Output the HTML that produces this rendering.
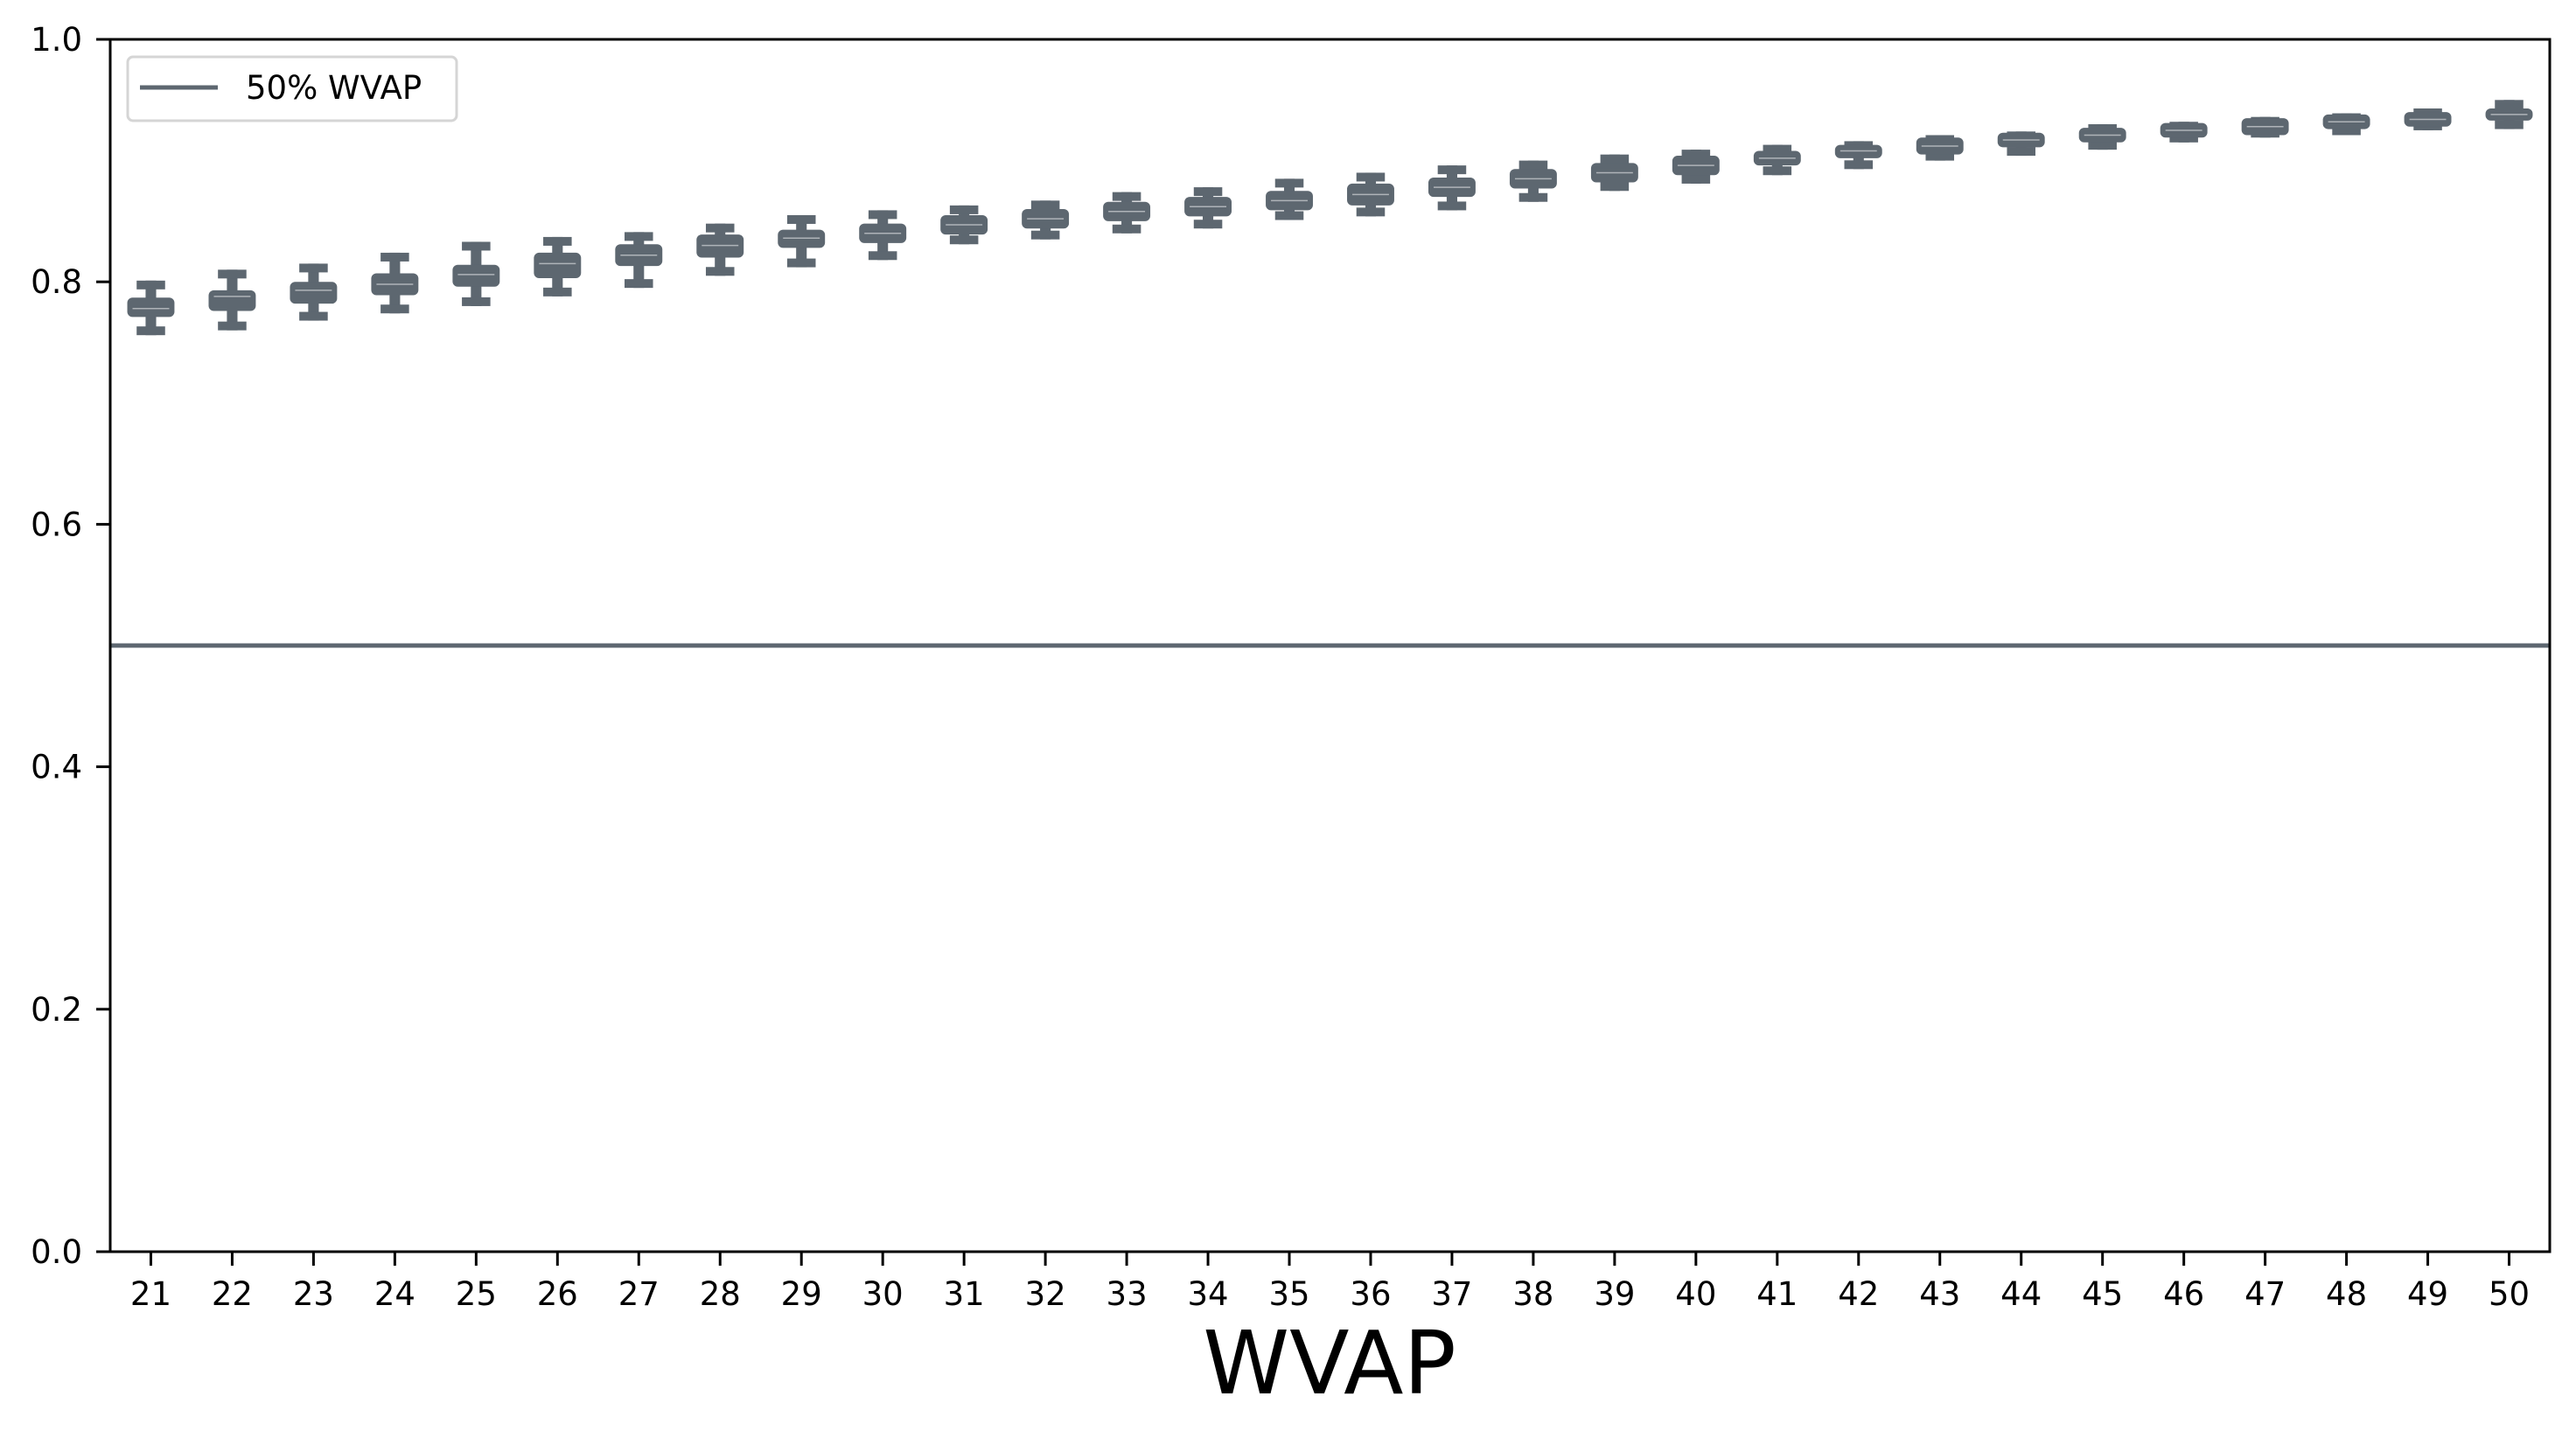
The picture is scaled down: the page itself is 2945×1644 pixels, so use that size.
<!DOCTYPE html>
<html><head><meta charset="utf-8"><style>
html,body{margin:0;padding:0;background:#fff}
svg{display:block;font-family:"DejaVu Sans","Liberation Sans",sans-serif}
</style></head><body>
<svg id="chart" width="2945" height="1644" viewBox="0 0 2945 1644">
<rect x="0" y="0" width="2945" height="1644" fill="#fff"/>
<g id="boxes"></g>
<line id="refline" stroke="#5d6770" stroke-width="5"/>
<rect x="126" y="45" width="2789" height="1386" fill="none" stroke="#000" stroke-width="3"/>
<g id="yaxis"></g>
<g id="xaxis"></g>
<text x="1520" y="1593" font-size="100" text-anchor="middle" fill="#000">WVAP</text>
<g>
<rect x="146" y="65" width="376" height="73" rx="6" fill="#fff" stroke="#d5d5d5" stroke-width="3"/>
<line x1="160" y1="100" x2="249" y2="100" stroke="#5d6770" stroke-width="5"/>
<text x="281" y="113" font-size="37" fill="#000">50% WVAP</text>
</g>
</svg>
<script>
const categories = [21,22,23,24,25,26,27,28,29,30,31,32,33,34,35,36,37,38,39,40,41,42,43,44,45,46,47,48,49,50];
const whiskerHigh = [0.801,0.810,0.815,0.824,0.833,0.837,0.841,0.848,0.855,0.859,0.863,0.867,0.874,0.878,0.885,0.890,0.896,0.900,0.905,0.909,0.913,0.916,0.921,0.924,0.930,0.932,0.936,0.939,0.943,0.950];
const q3 = [0.787,0.793,0.800,0.807,0.814,0.824,0.831,0.839,0.843,0.848,0.855,0.860,0.866,0.870,0.875,0.881,0.886,0.893,0.898,0.904,0.908,0.913,0.919,0.923,0.927,0.931,0.935,0.938,0.940,0.943];
const medians = [0.778,0.788,0.793,0.798,0.806,0.815,0.822,0.830,0.836,0.840,0.847,0.852,0.858,0.862,0.867,0.872,0.878,0.885,0.890,0.896,0.902,0.908,0.912,0.917,0.921,0.925,0.928,0.932,0.934,0.938];
const q1 = [0.771,0.776,0.782,0.789,0.796,0.803,0.813,0.820,0.828,0.832,0.839,0.844,0.850,0.854,0.859,0.863,0.870,0.877,0.882,0.888,0.896,0.902,0.905,0.911,0.915,0.919,0.921,0.926,0.928,0.933];
const whiskerLow = [0.756,0.760,0.768,0.774,0.780,0.788,0.795,0.805,0.812,0.818,0.831,0.835,0.840,0.844,0.851,0.854,0.859,0.866,0.875,0.881,0.888,0.893,0.900,0.904,0.909,0.915,0.919,0.921,0.925,0.926];
const refValue = 0.5;
const yTicks = [0.0,0.2,0.4,0.6,0.8,1.0];
const yTickLabels = ["0.0","0.2","0.4","0.6","0.8","1.0"];

const NS = "http://www.w3.org/2000/svg";
const L=126,R=2915,T=45,B=1431;
function xScale(i){return L+(i+0.5)*(R-L)/categories.length;}
function yScale(v){return B-v*(B-T);}
function mk(tag,attrs,parent){const e=document.createElementNS(NS,tag);for(const k in attrs)e.setAttribute(k,attrs[k]);parent.appendChild(e);return e;}
const col="#5d6770";
const gB=document.getElementById("boxes");
const unit=(R-L)/categories.length;
categories.forEach((c,i)=>{
  const cx=xScale(i);
  const g=mk("g",{},gB);
  
  
  const ww=unit*0.13, cw=unit*0.35, bw=unit*0.58, ct=10;
  const w=mk("rect",{x:cx-ww/2,y:yScale(whiskerHigh[i]),width:ww,height:Math.max(0,yScale(whiskerLow[i])-yScale(whiskerHigh[i])),fill:col},g);
  
  
  const c1=mk("rect",{x:cx-cw/2,y:yScale(whiskerHigh[i]),width:cw,height:ct,fill:col},g);
  
  
  const c2=mk("rect",{x:cx-cw/2,y:yScale(whiskerLow[i])-ct,width:cw,height:ct,fill:col},g);
  
  
  const b=mk("rect",{x:cx-bw/2,y:yScale(q3[i]),width:bw,height:Math.max(8,yScale(q1[i])-yScale(q3[i])),rx:6,fill:col},g);
  
  
  const m=mk("line",{x1:cx-bw/2+6,x2:cx+bw/2-6,y1:yScale(medians[i]),y2:yScale(medians[i]),stroke:"#ffffff","stroke-width":1.5,opacity:0.5},g);
  
  
});
const rl=document.getElementById("refline");
rl.setAttribute("x1",L);rl.setAttribute("x2",R);rl.setAttribute("y1",yScale(refValue));rl.setAttribute("y2",yScale(refValue));
const gY=document.getElementById("yaxis");
yTicks.forEach((v,i)=>{
  const t=mk("line",{x1:L-16,x2:L,y1:yScale(v),y2:yScale(v),stroke:"#000","stroke-width":3},gY);
  
  
  const tx=mk("text",{x:L-32,y:yScale(v)+13,"font-size":37,"text-anchor":"end",fill:"#000"},gY);
  tx.textContent=yTickLabels[i];
  
  
});
const gX=document.getElementById("xaxis");
categories.forEach((c,i)=>{
  const x=xScale(i);
  const t=mk("line",{x1:x,x2:x,y1:B,y2:B+16,stroke:"#000","stroke-width":3},gX);
  
  
  const tx=mk("text",{x:x,y:1492,"font-size":37,"text-anchor":"middle",fill:"#000"},gX);
  tx.textContent=String(c);
  
  
});
</script>
</body></html>
